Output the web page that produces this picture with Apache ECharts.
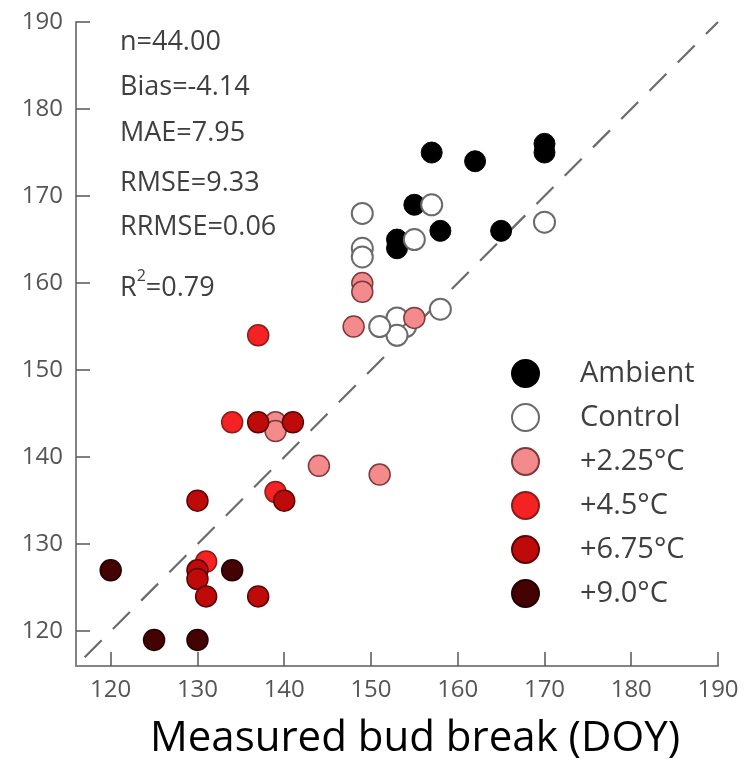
<!DOCTYPE html>
<html>
<head>
<meta charset="utf-8">
<script src="https://cdn.jsdelivr.net/npm/echarts@6/dist/echarts.min.js"></script>
<style>
  html, body { margin: 0; padding: 0; background: #fff; }
  #chart { width: 751px; height: 772px; }
</style>
</head>
<body>
<div id="chart"></div>
<script>
// Simulated vs measured bud break (day of year), by warming treatment
const groupNames = ['Ambient', 'Control', '+2.25°C', '+4.5°C', '+6.75°C', '+9.0°C'];

const ambientPts = [[157,175],[162,174],[170,176],[170,175],[155,169],[158,166],[165,166],[153,165],[153,164]];
const controlPts = [[154,155],[149,168],[149,164],[149,163],[157,169],[170,167],[155,165],[158,157],[153,156],[153,154],[151,155]];
const warm225Pts = [[149,160],[149,159],[148,155],[155,156],[139,144],[139,143],[144,139],[151,138]];
const warm45Pts  = [[137,154],[134,144],[139,136],[131,128]];
const warm675Pts = [[137,144],[141,144],[130,135],[140,135],[130,127],[130,126],[131,124],[137,124]];
const warm90Pts  = [[120,127],[134,127],[125,119],[130,119]];

const oneToOne = [[117,117],[190,190]];
const tickValues = [120, 130, 140, 150, 160, 170, 180, 190];
const axisMin = 116, axisMax = 190;

const statLines = ['n=44.00', 'Bias=-4.14', 'MAE=7.95', 'RMSE=9.33', 'RRMSE=0.06', 'R2=0.79'];
const xTitle = 'Measured bud break (DOY)';

const groupData = [ambientPts, controlPts, warm225Pts, warm45Pts, warm675Pts, warm90Pts];
const fills   = ['#000000', '#ffffff', '#f38a8c', '#f42222', '#bf0a0a', '#450202'];
const borders = ['#000000', '#6a6a6a', '#7e3a3a', '#8c1c1c', '#5a0505', '#200000'];
const borderW = [1, 2, 1.5, 1.5, 1.5, 1.5];

const FONT = 'Open Sans';
const TEXT_GREY = '#3f3f3f';
const chart = echarts.init(document.getElementById('chart'), null, { renderer: 'canvas' });

const axisCommon = {
  type: 'value', min: axisMin, max: axisMax,
  axisLine: { lineStyle: { color: '#858585', width: 2 } },
  axisTick: { inside: true, length: 14, customValues: tickValues, lineStyle: { color: '#555', width: 1.5 } },
  axisLabel: { customValues: tickValues, color: '#555', fontFamily: FONT, fontSize: 24 },
  splitLine: { show: false }
};

const series = [{
  type: 'line', data: oneToOne, symbol: 'none', silent: true, z: 1,
  lineStyle: { color: '#6b6b6b', width: 2.2, type: [24, 16] }
}];
groupNames.forEach((name, i) => {
  series.push({
    name, type: 'scatter', data: groupData[i], symbolSize: 21, z: 2 + i,
    itemStyle: { color: fills[i], borderColor: borders[i], borderWidth: borderW[i], opacity: 1 }
  });
});

// summary statistics, one line each (cap centres)
const statY = [41, 86, 132, 182, 226, 283];
const graphics = statLines.map((t, i) => {
  const parts = t.match(/^R2(=.*)$/);
  return {
    type: 'text', left: 120, top: statY[i] - (parts ? 15 : 12),
    style: parts ? {
      text: '{b|R}{s|2}{b|' + parts[1] + '}',
      rich: {
        b: { fontFamily: FONT, fontSize: 27, fill: TEXT_GREY, verticalAlign: 'bottom', lineHeight: 34 },
        s: { fontFamily: FONT, fontSize: 16, fill: TEXT_GREY, verticalAlign: 'top', lineHeight: 34, padding: [0, 0, 16, 0] }
      }
    } : { text: t, fontFamily: FONT, fontSize: 27, fill: TEXT_GREY }
  };
});

chart.setOption({
  animation: false,
  backgroundColor: '#fff',
  grid: { left: 76, right: 33, top: 22, bottom: 106, containLabel: false },
  xAxis: Object.assign({}, axisCommon, {
    name: xTitle, nameLocation: 'middle', nameGap: 52,
    nameTextStyle: { fontFamily: FONT, fontSize: 42, color: '#000', padding: [0, 0, 0, 36] },
    axisLabel: Object.assign({}, axisCommon.axisLabel, { margin: 12 })
  }),
  yAxis: Object.assign({}, axisCommon, {
    axisLabel: Object.assign({}, axisCommon.axisLabel, { margin: 13 })
  }),
  legend: {
    data: groupNames, orient: 'vertical', left: 506, top: 354,
    itemWidth: 27, itemHeight: 27, itemGap: 15, icon: 'circle',
    textStyle: { fontFamily: FONT, fontSize: 29, color: TEXT_GREY, lineHeight: 27, padding: [0, 0, 0, 36] }
  },
  graphic: graphics,
  series
});
</script>
</body>
</html>
